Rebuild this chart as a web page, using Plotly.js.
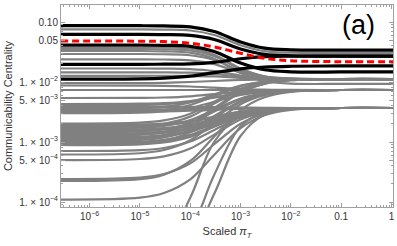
<!DOCTYPE html>
<html><head><meta charset="utf-8">
<script src="https://cdn.plot.ly/plotly-3.0.1.min.js"></script>
<style>html,body{margin:0;padding:0;background:#fff}#chart{width:397px;height:246px}</style>
</head><body><div id="chart"></div>
<script>
// scaled pi_T positions at which every curve is read
const xGrid = [2.7e-7, 1e-5, 3e-5, 1e-4, 3e-4, 1e-3, 3e-3, 1e-2, 0.1, 1.07];

// gray curves, upper group (fall with pi_T)
const grayUpper = [
  [0.0755, 0.0755, 0.0748, 0.0721, 0.0607, 0.0410, 0.0327, 0.0307, 0.0304, 0.0304],
  [0.0383, 0.0383, 0.0378, 0.0360, 0.0285, 0.0168, 0.0124, 0.0114, 0.0112, 0.0112],
  [0.0355, 0.0355, 0.0351, 0.0335, 0.0269, 0.0164, 0.0123, 0.0114, 0.0112, 0.0112],
  [0.0329, 0.0329, 0.0324, 0.0308, 0.0243, 0.0141, 0.0103, 0.0094, 0.0093, 0.0093],
  [0.0293, 0.0293, 0.0290, 0.0279, 0.0233, 0.0154, 0.0121, 0.0113, 0.0112, 0.0112],
  [0.0239, 0.0239, 0.0237, 0.0230, 0.0199, 0.0144, 0.0119, 0.0113, 0.0112, 0.0112],
  [0.0168, 0.0168, 0.0167, 0.0164, 0.0152, 0.0128, 0.0116, 0.0113, 0.0112, 0.0112],
  [0.0145, 0.0145, 0.0145, 0.0143, 0.0136, 0.0122, 0.0115, 0.0112, 0.0112, 0.0112],
  [0.0127, 0.0127, 0.0127, 0.0126, 0.0124, 0.0117, 0.0113, 0.0112, 0.0112, 0.0112]
];
// gray curves, middle group
const grayMiddle = [
  [0.0096, 0.0096, 0.0097, 0.0100, 0.0104, 0.0108, 0.0111, 0.0112, 0.0112, 0.0112],
  [0.00875, 0.00871, 0.00865, 0.00841, 0.00804, 0.00764, 0.00746, 0.00738, 0.00736, 0.00736],
  [0.00736, 0.00736, 0.00736, 0.00736, 0.00736, 0.00736, 0.00736, 0.00736, 0.00736, 0.00736],
  [0.00541, 0.00545, 0.00552, 0.00578, 0.00630, 0.00689, 0.00718, 0.00731, 0.00736, 0.00736],
  [0.00430, 0.00435, 0.00446, 0.00483, 0.00560, 0.00655, 0.00705, 0.00728, 0.00736, 0.00736],
  [0.00409, 0.00414, 0.00427, 0.00466, 0.00546, 0.00647, 0.00703, 0.00728, 0.00736, 0.00736],
  [0.00391, 0.00390, 0.00389, 0.00385, 0.00380, 0.00373, 0.00371, 0.00369, 0.00369, 0.00369],
  [0.00373, 0.00373, 0.00373, 0.00372, 0.00371, 0.00370, 0.00369, 0.00369, 0.00369, 0.00369],
  [0.00355, 0.00363, 0.00385, 0.00457, 0.00624, 0.00871, 0.0102, 0.0110, 0.0112, 0.0112],
  [0.00339, 0.00340, 0.00341, 0.00345, 0.00354, 0.00362, 0.00366, 0.00368, 0.00369, 0.00369],
  [0.00322, 0.00323, 0.00325, 0.00332, 0.00344, 0.00358, 0.00365, 0.00368, 0.00369, 0.00369],
  [0.00313, 0.00321, 0.00342, 0.00414, 0.00585, 0.00847, 0.0101, 0.0109, 0.0112, 0.0112],
  [0.00304, 0.00310, 0.00324, 0.00369, 0.00469, 0.00607, 0.00686, 0.00723, 0.00736, 0.00736]
];
// gray curves, dense band near 1e-3
const grayBand = [
  [0.00203, 0.00210, 0.00229, 0.00296, 0.00470, 0.00771, 0.00979, 0.0108, 0.0112, 0.0112],
  [0.00194, 0.00197, 0.00203, 0.00223, 0.00266, 0.00321, 0.00351, 0.00364, 0.00369, 0.00369],
  [0.00185, 0.00187, 0.00194, 0.00215, 0.00259, 0.00317, 0.00349, 0.00364, 0.00369, 0.00369],
  [0.00177, 0.00183, 0.00201, 0.00265, 0.00437, 0.00746, 0.00968, 0.0108, 0.0112, 0.0112],
  [0.00168, 0.00173, 0.00186, 0.00232, 0.00347, 0.00532, 0.00655, 0.00714, 0.00736, 0.00736],
  [0.00160, 0.00163, 0.00170, 0.00193, 0.00241, 0.00307, 0.00345, 0.00363, 0.00369, 0.00369],
  [0.00152, 0.00155, 0.00162, 0.00185, 0.00235, 0.00304, 0.00344, 0.00362, 0.00369, 0.00369],
  [0.00146, 0.00150, 0.00163, 0.00208, 0.00322, 0.00515, 0.00647, 0.00711, 0.00736, 0.00736],
  [0.00139, 0.00141, 0.00149, 0.00172, 0.00224, 0.00297, 0.00341, 0.00361, 0.00369, 0.00369],
  [0.00132, 0.00135, 0.00142, 0.00166, 0.00219, 0.00294, 0.00340, 0.00361, 0.00369, 0.00369],
  [0.00126, 0.00132, 0.00147, 0.00204, 0.00367, 0.00693, 0.00942, 0.0107, 0.0112, 0.0112],
  [0.00120, 0.00123, 0.00130, 0.00154, 0.00208, 0.00288, 0.00337, 0.00361, 0.00369, 0.00369],
  [0.00114, 0.00117, 0.00124, 0.00148, 0.00203, 0.00285, 0.00336, 0.00361, 0.00369, 0.00369],
  [0.00109, 0.00114, 0.00129, 0.00182, 0.00342, 0.00671, 0.00931, 0.0107, 0.0112, 0.0112],
  [0.00104, 0.00108, 0.00119, 0.00160, 0.00272, 0.00479, 0.00630, 0.00708, 0.00736, 0.00736],
  [0.000993, 0.00102, 0.00109, 0.00132, 0.00189, 0.00277, 0.00332, 0.00360, 0.00369, 0.00369],
  [0.000944, 0.000970, 0.00104, 0.00127, 0.00184, 0.00274, 0.00331, 0.00359, 0.00369, 0.00369],
  [0.000919, 0.000957, 0.00106, 0.00145, 0.00255, 0.00466, 0.00624, 0.00700, 0.00736, 0.00736],
  [0.000891, 0.000916, 0.000984, 0.00122, 0.00179, 0.00270, 0.00330, 0.00359, 0.00369, 0.00369]
];
// gray curves, lower group
const grayLower = [
  [0.000708, 0.000731, 0.000794, 0.00102, 0.00159, 0.00256, 0.00324, 0.00357, 0.00369, 0.00369],
  [0.000619, 0.000650, 0.000736, 0.00107, 0.00208, 0.00427, 0.00604, 0.00700, 0.00736, 0.00736],
  [0.000501, 0.000521, 0.000577, 0.000778, 0.00133, 0.00238, 0.00315, 0.00355, 0.00369, 0.00369],
  [0.000242, 0.000255, 0.000292, 0.000441, 0.000918, 0.00202, 0.00296, 0.00349, 0.00369, 0.00369],
  [0.000224, 0.000240, 0.000286, 0.000483, 0.00124, 0.00341, 0.00557, 0.00687, 0.00736, 0.00736],
  [0.000110, 0.000118, 0.000141, 0.000238, 0.000615, 0.00170, 0.00279, 0.00344, 0.00369, 0.00369]
];
// gray curves that start below the plotted range
const grayOffscale = [
  [1e-5, 1.16e-5, 1.94e-5, 1.18e-4, 1.01e-3, 2.79e-3, 3.48e-3, 3.65e-3, 3.69e-3, 3.69e-3],
  [1e-5, 1.05e-5, 1.30e-5, 3.44e-5, 2.85e-4, 1.82e-3, 3.15e-3, 3.58e-3, 3.69e-3, 3.69e-3],
  [1e-5, 1.04e-5, 1.17e-5, 2.26e-5, 1.37e-4, 1.26e-3, 2.86e-3, 3.52e-3, 3.69e-3, 3.69e-3]
];
// black curves
const blackCurves = [
  [0.0867, 0.0867, 0.0859, 0.0828, 0.0693, 0.0465, 0.0367, 0.0344, 0.0341, 0.0341],
  [0.0624, 0.0624, 0.0618, 0.0598, 0.0511, 0.0356, 0.0290, 0.0274, 0.0271, 0.0271],
  [0.0414, 0.0414, 0.0409, 0.0393, 0.0323, 0.0207, 0.0160, 0.0148, 0.0147, 0.0147],
  [0.0197, 0.0197, 0.0198, 0.0200, 0.0213, 0.0244, 0.0264, 0.0270, 0.0271, 0.0271],
  [0.0112, 0.0113, 0.0116, 0.0125, 0.0143, 0.0166, 0.0178, 0.0183, 0.0185, 0.0185]
];
// red dashed curve
const redCurve = [0.0482, 0.0479, 0.0471, 0.0442, 0.0383, 0.0301, 0.0249, 0.0226, 0.0218, 0.0218];

const xTickVals = [1e-6, 1e-5, 1e-4, 1e-3, 1e-2, 0.1, 1];
const xTickText = ['10<sup>−6</sup>', '10<sup>−5</sup>', '10<sup>−4</sup>', '10<sup>−3</sup>', '10<sup>−2</sup>', '0.1', '1'];
const yTickVals = [0.1, 0.05, 0.01, 0.005, 0.001, 0.0005, 0.0001];
const yTickText = ['0.10', '0.05', '1. × 10<sup>−2</sup>', '5. × 10<sup>−3</sup>', '1. × 10<sup>−3</sup>', '5. × 10<sup>−4</sup>', '1. × 10<sup>−4</sup>'];

function minorVals(lo, hi) {
  const v = [];
  for (let e = lo; e <= hi; e++) for (let m = 2; m <= 9; m++) v.push(m * Math.pow(10, e));
  return v;
}

function curve(y, color, width, dash) {
  return {
    type: 'scatter', mode: 'lines', hoverinfo: 'skip', showlegend: false,
    x: xGrid, y: y,
    line: {color: color, width: width, shape: 'spline', smoothing: 1, dash: dash || 'solid'}
  };
}

const traces = [];
[grayUpper, grayMiddle, grayBand, grayLower, grayOffscale].forEach(g =>
  g.forEach(y => traces.push(curve(y, '#808080', 2.2))));
blackCurves.forEach(y => traces.push(curve(y, '#000000', 3.2)));
traces.push(curve(redCurve, '#ff0000', 3, '7px,4px'));

const font = 'Liberation Sans, Arial, sans-serif';
const axisCommon = {
  showline: true, mirror: 'allticks', linecolor: '#a0a0a0', linewidth: 1,
  ticks: 'inside', ticklen: 4, tickcolor: '#a0a0a0', tickwidth: 1,
  showgrid: false, zeroline: false, tickmode: 'array',
  tickfont: {family: font, size: 10, color: '#333'}
};

const layout = {
  width: 397, height: 246,
  margin: {l: 61, r: 4, t: 5, b: 39},
  paper_bgcolor: '#fff', plot_bgcolor: '#fff',
  xaxis: Object.assign({}, axisCommon, {
    type: 'log', range: [Math.log10(2.7e-7), Math.log10(1.07)],
    tickvals: xTickVals, ticktext: xTickText,
    minor: {tickmode: 'array', tickvals: minorVals(-7, -1), ticks: 'inside', ticklen: 2, tickcolor: '#a0a0a0', showgrid: false},
    title: {text: 'Scaled <i>π</i><sub><i>T</i></sub>', font: {family: font, size: 11, color: '#333'}, standoff: 6}
  }),
  yaxis: Object.assign({}, axisCommon, {
    type: 'log', range: [Math.log10(8.26e-5), Math.log10(0.192)],
    tickvals: yTickVals, ticktext: yTickText,
    minor: {tickmode: 'array', tickvals: minorVals(-5, -1), ticks: 'inside', ticklen: 2, tickcolor: '#a0a0a0', showgrid: false},
    title: {text: 'Communicability Centrality', font: {family: font, size: 11, color: '#333'}, standoff: 4}
  }),
  annotations: [{
    text: '(a)', xref: 'paper', yref: 'paper', x: 0.895, y: 0.90, showarrow: false,
    xanchor: 'center', yanchor: 'middle',
    font: {family: font, size: 27, color: '#000'}
  }]
};

Plotly.newPlot('chart', traces, layout, {staticPlot: true, displayModeBar: false});
</script>
</body></html>
